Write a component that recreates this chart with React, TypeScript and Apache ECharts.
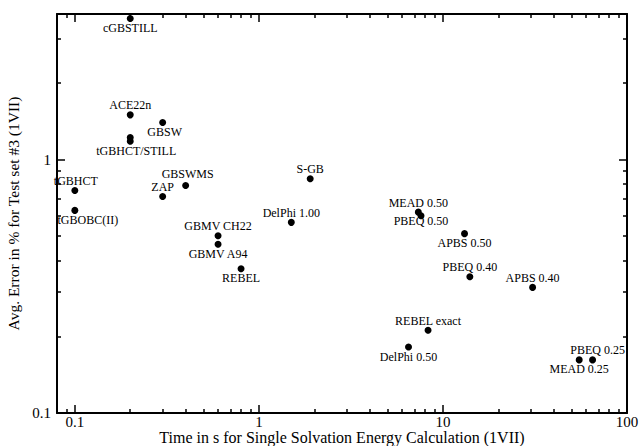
import React, { useEffect, useRef } from "react";
import * as echarts from "echarts";

// ---- data ----
const methodLabels = [
  "cGBSTILL", "ACE22n", "GBSW", "", "tGBHCT/STILL", "tGBHCT", "tGBOBC(II)",
  "ZAP", "GBSWMS", "S-GB", "DelPhi 1.00", "GBMV CH22", "GBMV A94", "REBEL",
  "MEAD 0.50", "PBEQ 0.50", "APBS 0.50", "PBEQ 0.40", "APBS 0.40",
  "REBEL exact", "DelPhi 0.50", "MEAD 0.25", "PBEQ 0.25",
];
const timeSeconds = [
  0.2, 0.2, 0.3, 0.2, 0.2, 0.1, 0.1,
  0.3, 0.4, 1.9, 1.5, 0.6, 0.6, 0.8,
  7.35, 7.6, 13.1, 14, 30.7,
  8.3, 6.5, 55, 65,
];
const avgErrorPct = [
  3.6, 1.5, 1.4, 1.22, 1.18, 0.755, 0.63,
  0.715, 0.79, 0.84, 0.565, 0.5, 0.463, 0.371,
  0.62, 0.6, 0.51, 0.345, 0.313,
  0.212, 0.182, 0.162, 0.162,
];

const xMajorTicks = [0.1, 1, 10, 100];
const xMinorTicks = [
  0.09, 0.2, 0.3, 0.4, 0.5, 0.6, 0.7, 0.8, 0.9,
  2, 3, 4, 5, 6, 7, 8, 9, 20, 30, 40, 50, 60, 70, 80, 90,
];
const yMajorTicks = [0.1, 1];
const yMinorTicks = [0.2, 0.3, 0.4, 0.5, 0.6, 0.7, 0.8, 0.9, 2, 3];
const xMin = 0.08;
const xMax = 100;
const yMin = 0.1;
const yMax = 3.75;

const xTitle = "Time in s for Single Solvation Energy Calculation (1VII)";
const yTitle = "Avg. Error in % for Test set #3 (1VII)";

// label placement (style, kept apart from values)
const labelSide = [
  "bottom", "top", "bottom", "bottom", "bottom", "top", "bottom",
  "top", "top", "top", "top", "top", "bottom", "bottom",
  "top", "bottom", "bottom", "top", "top",
  "top", "bottom", "bottom", "top",
];
const labelShiftX = [
  0, 0, 2, 0, 6, 1, 13,
  0, 2, 0, 0, 0, 0, 0,
  0, 0, 0, 0, 0,
  0, 0, 0, 5,
];
const labelShiftY = [
  0, 0, 0, 0, 0, 0, 0,
  0, -2, 0, 0, 0, 0, 0,
  0, -4, 0, 0, 0,
  0, 0, 0, 0,
];

const FONT = "Liberation Serif";

function fmt(v: number): string {
  return String(Number(v.toPrecision(6)));
}

function xAxisDef(position: "bottom" | "top", major: boolean, main: boolean) {
  return {
    type: "log",
    logBase: 10,
    min: xMin,
    max: xMax,
    position,
    axisLine: { show: major, onZero: false, lineStyle: { color: "#000", width: 2 } },
    axisTick: {
      show: true,
      inside: true,
      length: major ? 8 : 4,
      customValues: major ? xMajorTicks : xMinorTicks,
      lineStyle: { color: "#000", width: 1.5 },
    },
    axisLabel: {
      show: main,
      customValues: xMajorTicks,
      formatter: (v: number) => fmt(v),
      color: "#000",
      fontFamily: FONT,
      fontSize: 15,
      lineHeight: 14,
      margin: 2,
    },
    splitLine: { show: false },
    minorTick: { show: false },
    minorSplitLine: { show: false },
    name: main ? xTitle : "",
    nameLocation: "middle",
    nameGap: 16.5,
    nameMoveOverlap: false,
    nameTextStyle: { color: "#000", fontFamily: FONT, fontSize: 16, lineHeight: 16 },
  };
}

function yAxisDef(position: "left" | "right", major: boolean, main: boolean) {
  return {
    type: "log",
    logBase: 10,
    min: yMin,
    max: yMax,
    position,
    axisLine: { show: major, onZero: false, lineStyle: { color: "#000", width: 2 } },
    axisTick: {
      show: true,
      inside: true,
      length: major ? 8 : 4,
      customValues: major ? yMajorTicks : yMinorTicks,
      lineStyle: { color: "#000", width: 1.5 },
    },
    axisLabel: {
      show: main,
      customValues: yMajorTicks,
      formatter: (v: number) => fmt(v),
      color: "#000",
      fontFamily: FONT,
      fontSize: 15,
      margin: 6,
    },
    splitLine: { show: false },
    minorTick: { show: false },
    minorSplitLine: { show: false },
    name: main ? yTitle : "",
    nameLocation: "middle",
    nameGap: 30,
    nameRotate: 90,
    nameTextStyle: { color: "#000", fontFamily: FONT, fontSize: 15.5 },
  };
}

export default function App() {
  const ref = useRef<HTMLDivElement>(null);

  useEffect(() => {
    if (!ref.current) return;
    const chart = echarts.init(ref.current, undefined, { renderer: "svg" });

    const points = timeSeconds.map((t, i) => ({
      value: [t, avgErrorPct[i]],
      label: {
        show: methodLabels[i] !== "",
        position: labelSide[i],
        distance: 0,
        offset: [labelShiftX[i], labelShiftY[i]],
        formatter: methodLabels[i],
      },
    }));

    chart.setOption({
      animation: false,
      backgroundColor: "#fff",
      grid: {
        left: 57,
        right: 13,
        top: 14,
        bottom: 33,
        containLabel: false,
        outerBoundsMode: "none",
      },
      xAxis: [
        xAxisDef("bottom", true, true),
        xAxisDef("bottom", false, false),
        xAxisDef("top", true, false),
        xAxisDef("top", false, false),
      ],
      yAxis: [
        yAxisDef("left", true, true),
        yAxisDef("left", false, false),
        yAxisDef("right", true, false),
        yAxisDef("right", false, false),
      ],
      series: [
        {
          type: "scatter",
          xAxisIndex: 0,
          yAxisIndex: 0,
          symbol: "circle",
          symbolSize: 7,
          itemStyle: { color: "#000", opacity: 1 },
          label: {
            color: "#000",
            fontFamily: FONT,
            fontSize: 12,
          },
          emphasis: { disabled: true },
          data: points,
        },
      ],
    });

    return () => chart.dispose();
  }, []);

  return <div ref={ref} style={{ width: 640, height: 446, position: "absolute", left: 0, top: 0 }} />;
}
